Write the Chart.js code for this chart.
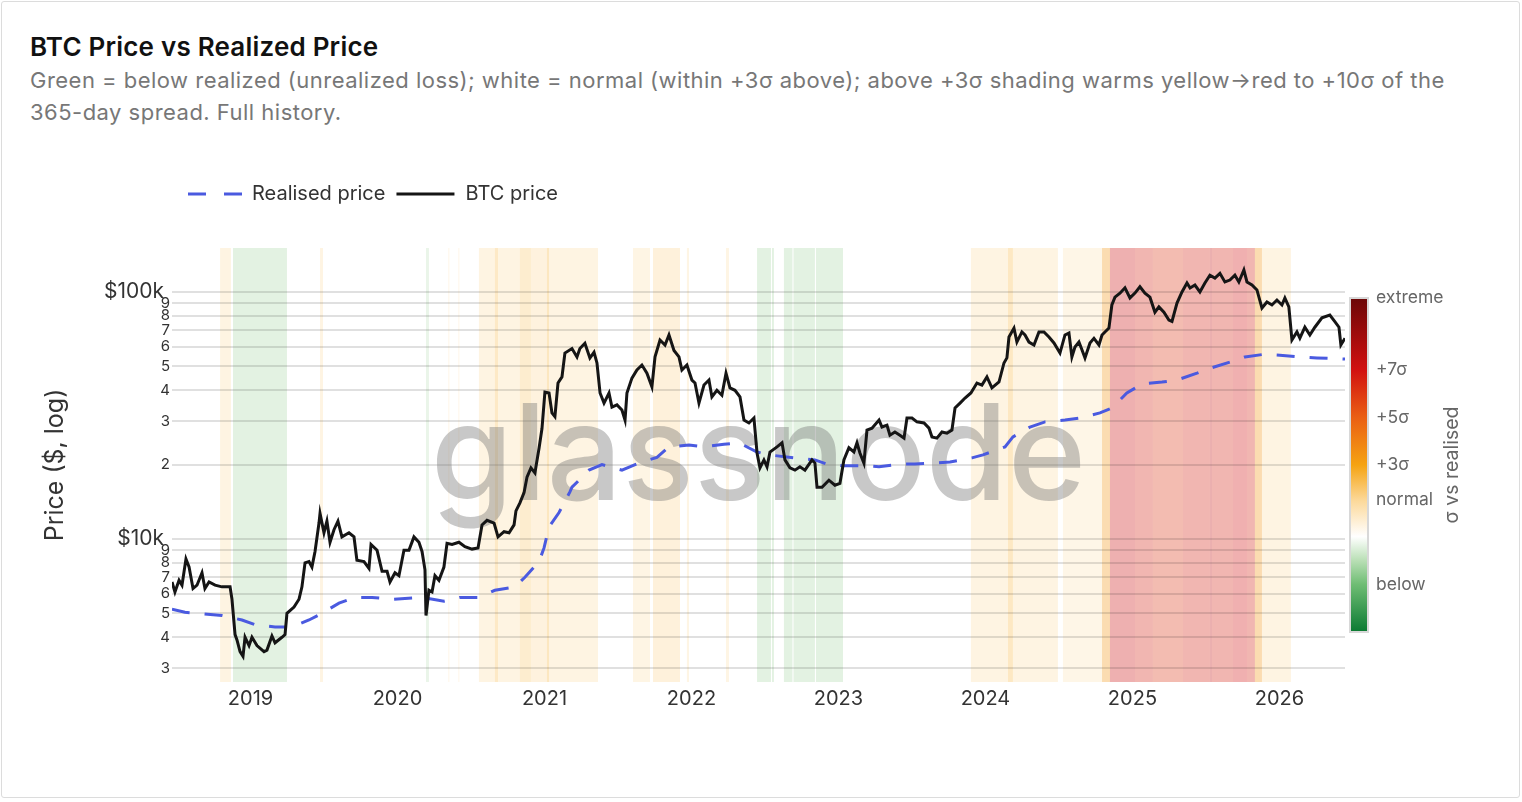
<!DOCTYPE html>
<html>
<head>
<meta charset="utf-8">
<script src="https://cdn.jsdelivr.net/npm/chart.js@4.4.1/dist/chart.umd.min.js"></script>
<style>
  html, body { margin: 0; padding: 0; background: #fff; }
  body { width: 1522px; height: 802px; position: relative; overflow: hidden; font-family: Inter, "Noto Sans", sans-serif; }
  .card { position: absolute; left: 1px; top: 1px; width: 1517px; height: 795px; border: 1px solid #dcdcdc; border-radius: 3px; }
  h1 { position: absolute; left: 30px; top: 31px; margin: 0; font-size: 26px; font-weight: 600; color: #111; line-height: 32px; letter-spacing: 0.2px; }
  .sub { position: absolute; left: 30px; top: 64px; margin: 0; font-size: 22px; color: #777; line-height: 32px; white-space: nowrap; letter-spacing: 0.48px; }
  #chart { position: absolute; left: 0; top: 0; }
</style>
</head>
<body>
<div class="card"></div>
<h1>BTC Price vs Realized Price</h1>
<p class="sub">Green = below realized (unrealized loss); white = normal (within +3σ above); above +3σ shading warms yellow→red to +10σ of the<br>365-day spread. Full history.</p>
<canvas id="chart" width="1522" height="802"></canvas>
<script>
// x values are decimal years
const xTickValues = [2019, 2020, 2021, 2022, 2023, 2024, 2025, 2026];
const yTickValues = [3000, 4000, 5000, 6000, 7000, 8000, 9000, 10000,
  20000, 30000, 40000, 50000, 60000, 70000, 80000, 90000, 100000];

const btcDates = [
  2018.466, 2018.486, 2018.514, 2018.534, 2018.561, 2018.582, 2018.609, 2018.636, 2018.670, 2018.690,
  2018.718, 2018.759, 2018.806, 2018.861, 2018.874, 2018.895, 2018.908, 2018.929, 2018.949, 2018.963,
  2018.990, 2019.010, 2019.044, 2019.092, 2019.112, 2019.146, 2019.167, 2019.214, 2019.235, 2019.248,
  2019.296, 2019.330, 2019.350, 2019.371, 2019.398, 2019.418, 2019.439, 2019.466, 2019.473, 2019.500,
  2019.520, 2019.541, 2019.568, 2019.595, 2019.622, 2019.670, 2019.704, 2019.724, 2019.772, 2019.806,
  2019.820, 2019.861, 2019.895, 2019.929, 2019.949, 2019.983, 2020.010, 2020.044, 2020.078, 2020.112,
  2020.146, 2020.167, 2020.187, 2020.194, 2020.214, 2020.235, 2020.255, 2020.282, 2020.316, 2020.337,
  2020.371, 2020.418, 2020.459, 2020.507, 2020.548, 2020.575, 2020.609, 2020.657, 2020.684, 2020.725,
  2020.759, 2020.793, 2020.806, 2020.833, 2020.861, 2020.881, 2020.908, 2020.935, 2020.963, 2020.983,
  2021.003, 2021.031, 2021.051, 2021.071, 2021.092, 2021.119, 2021.139, 2021.187, 2021.221, 2021.241,
  2021.275, 2021.309, 2021.337, 2021.357, 2021.378, 2021.405, 2021.439, 2021.459, 2021.493, 2021.527,
  2021.548, 2021.561, 2021.595, 2021.629, 2021.663, 2021.697, 2021.731, 2021.752, 2021.786, 2021.820,
  2021.847, 2021.881, 2021.915, 2021.935, 2021.969, 2022.003, 2022.024, 2022.051, 2022.085, 2022.119,
  2022.139, 2022.173, 2022.207, 2022.235, 2022.262, 2022.296, 2022.330, 2022.357, 2022.391, 2022.425,
  2022.446, 2022.466, 2022.493, 2022.514, 2022.534, 2022.582, 2022.616, 2022.636, 2022.670, 2022.704,
  2022.738, 2022.772, 2022.820, 2022.840, 2022.854, 2022.888, 2022.935, 2022.976, 2023.010, 2023.037,
  2023.071, 2023.105, 2023.126, 2023.146, 2023.173, 2023.194, 2023.228, 2023.276, 2023.296, 2023.330,
  2023.350, 2023.384, 2023.418, 2023.446, 2023.466, 2023.500, 2023.534, 2023.582, 2023.616, 2023.636,
  2023.670, 2023.704, 2023.738, 2023.772, 2023.793, 2023.827, 2023.861, 2023.901, 2023.942, 2023.976,
  2024.010, 2024.044, 2024.092, 2024.126, 2024.146, 2024.160, 2024.194, 2024.214, 2024.248, 2024.269,
  2024.296, 2024.330, 2024.364, 2024.398, 2024.432, 2024.466, 2024.507, 2024.541, 2024.568, 2024.588,
  2024.609, 2024.636, 2024.657, 2024.677, 2024.711, 2024.738, 2024.772, 2024.793, 2024.813, 2024.840,
  2024.860, 2024.881, 2024.915, 2024.949, 2024.983, 2025.017, 2025.051, 2025.085, 2025.119, 2025.153,
  2025.180, 2025.214, 2025.248, 2025.269, 2025.303, 2025.337, 2025.371, 2025.392, 2025.425, 2025.459,
  2025.493, 2025.527, 2025.561, 2025.595, 2025.629, 2025.663, 2025.697, 2025.724, 2025.758, 2025.779,
  2025.813, 2025.847, 2025.881, 2025.915, 2025.949, 2025.983, 2026.017, 2026.037, 2026.064, 2026.085,
  2026.119, 2026.139, 2026.173, 2026.207, 2026.241, 2026.289, 2026.343, 2026.377, 2026.405, 2026.418,
  2026.446
];
const btcPrices = [
  6700, 6100, 6800, 6500, 8300, 7700, 6300, 6500, 7300, 6300,
  6700, 6500, 6400, 6400, 5700, 4100, 3900, 3500, 3350, 4000,
  3700, 4000, 3700, 3500, 3550, 4050, 3800, 4000, 4100, 5000,
  5300, 5700, 6400, 8000, 8100, 7700, 8900, 11600, 12700, 10600,
  11800, 9700, 10900, 11800, 10200, 10600, 10200, 8200, 8100, 7600,
  9500, 9000, 7400, 7400, 6700, 7300, 7100, 9000, 9000, 10200,
  9700, 8900, 7500, 4900, 6200, 6100, 7100, 6800, 7700, 9600,
  9500, 9700, 9300, 9100, 9200, 11400, 11900, 11600, 10200, 10700,
  10600, 11400, 13000, 14000, 15400, 17800, 19400, 18500, 23300, 28000,
  39300, 39000, 32400, 31300, 42800, 45300, 56600, 59000, 54600, 59000,
  62000, 54000, 57000, 51600, 39000, 35500, 39000, 34200, 34900, 33300,
  30300, 39000, 44800, 48300, 50600, 46900, 41300, 54600, 63900, 61000,
  67000, 58000, 54600, 48300, 50600, 44000, 42800, 35500, 42000, 44000,
  37600, 40000, 38200, 46900, 40900, 40000, 37600, 30300, 29500, 30900,
  22300, 19400, 20900, 19600, 22500, 23600, 24500, 20900, 19400, 19000,
  19600, 19000, 20900, 20300, 16200, 16200, 17300, 16500, 16800, 20900,
  23400, 22500, 24500, 22300, 20300, 27600, 28100, 30300, 28400, 28900,
  26300, 27100, 26300, 25600, 30900, 30900, 29800, 29500, 28100, 25900,
  25600, 27100, 26800, 27600, 33900, 35500, 37200, 39000, 42800, 42000,
  45300, 40900, 43200, 51600, 54100, 65700, 71400, 62700, 68900, 67000,
  62700, 61000, 68900, 68900, 65700, 62200, 56600, 67000, 68200, 54600,
  59900, 62700, 58200, 54100, 62200, 64900, 61000, 67000, 68900, 71400,
  88600, 95300, 98900, 104000, 94600, 99000, 105000, 99000, 95300, 82800,
  87000, 82800, 77000, 76000, 90200, 100000, 108800, 103800, 106700, 100000,
  108800, 117000, 113900, 119000, 109800, 111800, 117000, 109800, 122800, 109800,
  106700, 101900, 86100, 91100, 88600, 92800, 88600, 94600, 87000, 64000,
  68900, 65000, 72000, 67000, 72000, 78600, 80700, 75900, 72000, 61000,
  65000
];

const realDates = [
  2018.466, 2018.554, 2018.806, 2018.942, 2019.031, 2019.167, 2019.282, 2019.398, 2019.486, 2019.602,
  2019.711, 2019.827, 2019.963, 2020.167, 2020.316, 2020.425, 2020.554, 2020.663, 2020.799, 2020.867,
  2020.963, 2020.997, 2021.031, 2021.099, 2021.173, 2021.187, 2021.303, 2021.391, 2021.527, 2021.643,
  2021.765, 2021.847, 2021.983, 2022.085, 2022.221, 2022.323, 2022.446, 2022.527, 2022.704, 2022.840,
  2022.922, 2023.024, 2023.180, 2023.276, 2023.412, 2023.520, 2023.656, 2023.759, 2023.908, 2023.983,
  2024.133, 2024.187, 2024.303, 2024.405, 2024.541, 2024.643, 2024.779, 2024.860, 2024.962, 2025.065,
  2025.201, 2025.303, 2025.439, 2025.527, 2025.663, 2025.765, 2025.901, 2026.003, 2026.139, 2026.255,
  2026.446
];
const realPrices = [
  5200, 5050, 4900, 4700, 4500, 4400, 4400, 4700, 5000, 5500,
  5800, 5800, 5700, 5800, 5600, 5800, 5800, 6200, 6400, 7000,
  8100, 9200, 11200, 12800, 15500, 16200, 19000, 20000, 19000, 20300,
  21400, 23600, 24000, 23600, 24200, 24500, 22500, 21900, 21300, 20900,
  20100, 19800, 19800, 19600, 20100, 20100, 20300, 20500, 21300, 21900,
  23600, 25900, 28400, 29800, 30300, 30900, 32400, 33900, 39000, 42400,
  43200, 44000, 46900, 49100, 52000, 54600, 56000, 55500, 54600, 54100,
  53500
];

// shading bands: date ranges and sigma vs realised (below realised < 0)
const bandStart = [2018.793, 2018.881, 2019.473, 2020.194, 2020.344, 2020.412, 2020.554, 2020.663, 2020.684, 2020.833,
  2020.908, 2021.017, 2021.031, 2021.602, 2021.738, 2021.969, 2022.235, 2022.446, 2022.548, 2022.629,
  2022.694, 2022.847, 2023.901, 2024.153, 2024.187, 2024.527, 2024.793, 2024.847, 2025.017, 2025.139,
  2025.344, 2025.527, 2025.541, 2025.684, 2025.779, 2025.833, 2025.881];
const bandEnd = [2018.867, 2019.248, 2019.493, 2020.214, 2020.354, 2020.422, 2020.663, 2020.684, 2020.833, 2020.908,
  2021.017, 2021.031, 2021.364, 2021.718, 2021.922, 2021.983, 2022.255, 2022.541, 2022.561, 2022.687,
  2022.840, 2023.031, 2024.153, 2024.187, 2024.493, 2024.793, 2024.847, 2025.017, 2025.139, 2025.344,
  2025.527, 2025.541, 2025.684, 2025.779, 2025.833, 2025.881, 2026.078];
const bandSigma = [1.3, -1.2, 1.3, -0.9, 0.7, 0.7, 1.3, 2.3, 1.3, 2.0,
  1.5, 2.5, 1.3, 1.2, 1.6, 1.2, 1.2, -1.2, -1.2, -1.2,
  -1.2, -1.2, 1.3, 2.4, 1.3, 1.1, 3.4, 7.2, 6.6, 6.1,
  6.6, 7.4, 6.6, 7.0, 6.6, 3.4, 1.3];

// colour bar
const sigmaStops = [-4, -2, -1, 0, 1.5, 3, 5, 7, 10];
const stopColors = ['#0b7a32', '#6fbd74', '#b9dfb5', '#ffffff', '#fcd99a', '#f5a312', '#ea5f14', '#d11010', '#6b0808'];
const cbLabels = ['extreme', '+7σ', '+5σ', '+3σ', 'normal', 'below'];
const cbLabelSigma = [10, 7, 5, 3, 1.54, -2];

function hexRgb(h) {
  const n = parseInt(h.slice(1), 16);
  return [(n >> 16) & 255, (n >> 8) & 255, n & 255];
}
function sigmaColor(s, a) {
  s = Math.max(sigmaStops[0], Math.min(sigmaStops[sigmaStops.length - 1], s));
  let i = 0;
  while (i < sigmaStops.length - 2 && s > sigmaStops[i + 1]) i++;
  const t = (s - sigmaStops[i]) / (sigmaStops[i + 1] - sigmaStops[i]);
  const c0 = hexRgb(stopColors[i]), c1 = hexRgb(stopColors[i + 1]);
  const c = c0.map((v, k) => Math.round(v + (c1[k] - v) * t));
  return `rgba(${c[0]},${c[1]},${c[2]},${a})`;
}

Chart.defaults.font.family = 'Inter, "Noto Sans", sans-serif';
Chart.defaults.color = '#333';

const bandsPlugin = {
  id: 'bands',
  beforeDraw(chart) {
    const { ctx, chartArea: a, scales: { x } } = chart;
    ctx.save();
    ctx.beginPath();
    ctx.rect(a.left, a.top, a.width, a.height);
    ctx.clip();
    for (let i = 0; i < bandStart.length; i++) {
      const x0 = x.getPixelForValue(bandStart[i]);
      const x1 = x.getPixelForValue(bandEnd[i]);
      ctx.fillStyle = sigmaColor(bandSigma[i], 0.33);
      ctx.fillRect(x0, a.top, x1 - x0, a.height);
    }
    ctx.restore();
  }
};

const watermarkPlugin = {
  id: 'watermark',
  beforeDatasetsDraw(chart) {
    const { ctx, chartArea: a } = chart;
    ctx.save();
    ctx.font = '500 133px Inter';
    ctx.fillStyle = 'rgba(110,110,110,0.38)';
    ctx.textAlign = 'center';
    ctx.textBaseline = 'alphabetic';
    ctx.fillText('glassnode', (a.left + a.right) / 2, a.top + a.height * 0.58);
    ctx.restore();
  }
};

const colorbarPlugin = {
  id: 'colorbar',
  afterDraw(chart) {
    const { ctx, chartArea: a } = chart;
    const x0 = a.right + 5, w = 18, top = a.top + 50, h = a.height - 100;
    const lo = sigmaStops[0], hi = sigmaStops[sigmaStops.length - 1];
    const ys = s => top + (hi - s) / (hi - lo) * h;
    ctx.save();
    const g = ctx.createLinearGradient(0, top, 0, top + h);
    sigmaStops.forEach((s, i) => g.addColorStop((hi - s) / (hi - lo), stopColors[i]));
    ctx.fillStyle = g;
    ctx.fillRect(x0, top, w, h);
    ctx.strokeStyle = '#d8d8d8';
    ctx.lineWidth = 2;
    ctx.strokeRect(x0, top, w, h);
    ctx.fillStyle = '#666';
    ctx.font = '17.5px Inter';
    ctx.textAlign = 'left';
    ctx.textBaseline = 'middle';
    cbLabels.forEach((t, i) => ctx.fillText(t, x0 + w + 8, ys(cbLabelSigma[i])));
    ctx.translate(a.right + 107, (a.top + a.bottom) / 2);
    ctx.rotate(-Math.PI / 2);
    ctx.textAlign = 'center';
    ctx.font = '19.5px Inter';
    ctx.fillText('σ vs realised', 0, 0);
    ctx.restore();
  }
};

const legendSpacer = {
  id: 'legendSpacer',
  afterInit(chart) {
    const lg = chart.legend;
    const fit = lg.fit.bind(lg);
    lg.fit = function () { fit(); this.height = 74; };
  }
};

const legendDash = { 'Realised price': [[18, 18], 30], 'BTC price': [[58, 200], 257] };

new Chart(document.getElementById('chart'), {
  type: 'line',
  data: {
    datasets: [{
      label: 'BTC price',
      data: btcDates.map((d, i) => ({ x: d, y: btcPrices[i] })),
      borderColor: '#151515',
      borderWidth: 3,
      pointRadius: 0,
      tension: 0
    }, {
      label: 'Realised price',
      data: realDates.map((d, i) => ({ x: d, y: realPrices[i] })),
      borderColor: '#4a5ae0',
      borderWidth: 3,
      borderDash: [18, 15],
      pointRadius: 0,
      tension: 0
    }]
  },
  options: {
    responsive: false,
    animation: false,
    devicePixelRatio: 1,
    layout: { padding: { left: 38, right: 177, top: 174, bottom: 80 } },
    plugins: {
      tooltip: { enabled: false },
      legend: {
        position: 'top',
        align: 'start',
        fullSize: false,
        labels: {
          usePointStyle: true,
          pointStyle: 'line',
          pointStyleWidth: 60,
          padding: 10,
          color: '#333',
          font: { size: 20 },
          generateLabels(chart) {
            const items = Chart.defaults.plugins.legend.labels.generateLabels(chart);
            items.forEach(it => {
              it.lineDash = legendDash[it.text][0];
              it.lineDashOffset = legendDash[it.text][1];
              it.pointStyle = 'line';
            });
            return items.sort((p, q) => q.datasetIndex - p.datasetIndex);
          }
        }
      }
    },
    scales: {
      x: {
        type: 'linear',
        min: 2018.466,
        max: 2026.446,
        afterBuildTicks: s => { s.ticks = xTickValues.map(v => ({ value: v })); },
        afterFit: s => { s.height = 40; },
        grid: { display: false, drawTicks: false },
        border: { display: false },
        ticks: { padding: 5, color: '#333', font: { size: 20 }, maxRotation: 0, autoSkip: false, callback: v => String(v) }
      },
      y: {
        type: 'logarithmic',
        min: 2636,
        max: 150700,
        afterBuildTicks: s => { s.ticks = yTickValues.map(v => ({ value: v })); },
        afterFit: s => { s.width = 134; },
        grid: { color: 'rgba(0,0,0,0.12)', lineWidth: 2, drawTicks: false },
        border: { display: false },
        title: { display: true, text: 'Price ($, log)', color: '#333', font: { size: 25 }, padding: { top: 2, bottom: 0 } },
        ticks: {
          padding: 2,
          autoSkip: false,
          color: '#333',
          font: c => ({ size: (c.tick && (c.tick.value === 10000 || c.tick.value === 100000)) ? 21 : 15 }),
          callback: v => {
            if (v === 10000) return '$10k ';
            if (v === 100000) return '$100k ';
            return String(Math.round(v / Math.pow(10, Math.floor(Math.log10(v) + 1e-9))));
          }
        }
      }
    }
  },
  plugins: [legendSpacer, bandsPlugin, watermarkPlugin, colorbarPlugin]
});
</script>
</body>
</html>
